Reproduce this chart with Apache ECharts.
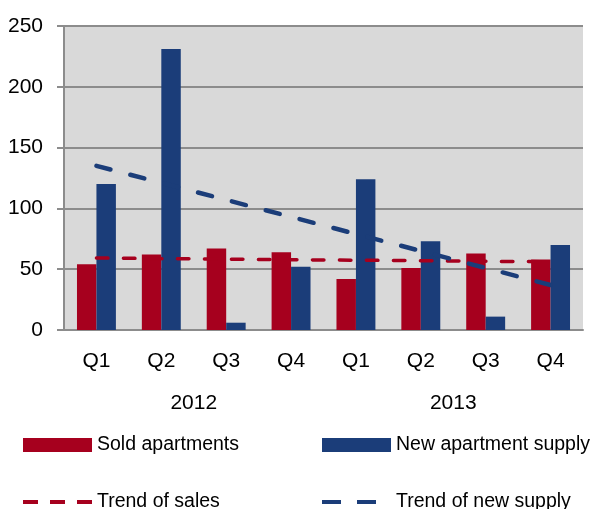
<!DOCTYPE html>
<html>
<head>
	<meta charset="utf-8">
	<title></title>
    <script src="https://cdn.jsdelivr.net/npm/echarts@6/dist/echarts.min.js"></script>
    <style>
        html, body { margin: 0; padding: 0; background: #fff; }
    </style>
</head>
<body>
    <div id="main" style="width: 595px;height:509px;"></div>
	<script type="text/javascript">
        const quarters = ['Q1', 'Q2', 'Q3', 'Q4', 'Q1', 'Q2', 'Q3', 'Q4'];
        const years = ['2012', '2013'];
        const sold = [54, 62, 67, 64, 42, 51, 63, 58];
        const supply = [120, 231, 6, 52, 124, 73, 11, 70];
        // trend lines at each quarter
        const salesTrend = [59.2, 58.7, 58.3, 57.8, 57.4, 57.0, 56.5, 56.1];
        const supplyTrend = [135, 121, 107, 93, 79, 65, 51, 37];

        const RED = '#a6001e';
        const BLUE = '#1b3d79';
        const GREY = '#8c8c8c';
        const FONT = "'Liberation Sans', Arial, sans-serif";
        const txt = { color: '#000', fontFamily: FONT, fontSize: 19.5 };
        const axisTxt = { color: '#000', fontFamily: FONT, fontSize: 21 };

        // dashed legend icons (dash / gap pattern of the trend lines)
        const RED_DASH_ICON = 'path://M0,0h15v4h-15z M27,0h15v4h-15z M54,0h15v4h-15z';
        const BLUE_DASH_ICON = 'path://M0,0h19v4h-19z M35,0h19v4h-19z M69,4';

        const myChart = echarts.init(document.getElementById('main'));

        function legendAt(left, top, name, icon, h) {
            return {
                left: left, top: top, padding: 0,
                itemWidth: 69, itemHeight: h,
                symbolKeepAspect: false,
                data: [{ name: name, icon: icon }],
                selectedMode: false,
                textStyle: txt
            };
        }

        const options = {
            animation: false,
            grid: {
                left: 64, right: 12, top: 26, bottom: 179,
                show: true, backgroundColor: '#d9d9d9', borderWidth: 0
            },
            legend: [
                legendAt(23, 435, 'Sold apartments', 'rect', 14),
                legendAt(322, 435, 'New apartment supply', 'rect', 14),
                legendAt(23, 492, 'Trend of sales', RED_DASH_ICON, 4),
                legendAt(322, 492, 'Trend of new supply', BLUE_DASH_ICON, 4)
            ],
            xAxis: [{
                type: 'category',
                data: quarters,
                axisLine: { lineStyle: { color: GREY, width: 2 } },
                axisTick: { interval: 0, length: 43, lineStyle: { color: GREY, width: 2 } },
                axisLabel: Object.assign({ interval: 0, margin: 21 }, axisTxt)
            }, {
                type: 'category',
                data: years,
                position: 'bottom',
                offset: 43,
                axisLine: { show: false },
                axisTick: { interval: 0, length: 45, lineStyle: { color: GREY, width: 2 } },
                axisLabel: Object.assign({ interval: 0, margin: 20 }, axisTxt)
            }],
            yAxis: {
                type: 'value',
                min: 0, max: 250, interval: 50,
                axisLine: { show: true, lineStyle: { color: GREY, width: 2 } },
                axisTick: { show: true, length: 7, lineStyle: { color: GREY, width: 2 } },
                splitLine: { lineStyle: { color: GREY, width: 2 } },
                axisLabel: Object.assign({ margin: 21 }, axisTxt)
            },
            series: [{
                name: 'Sold apartments',
                type: 'bar',
                data: sold,
                barWidth: '30%',
                barGap: '0%',
                itemStyle: { color: RED }
            }, {
                name: 'New apartment supply',
                type: 'bar',
                data: supply,
                barWidth: '30%',
                barGap: '0%',
                itemStyle: { color: BLUE }
            }, {
                name: 'Trend of sales',
                type: 'line',
                data: salesTrend,
                symbol: 'none',
                z: 5,
                itemStyle: { color: RED },
                lineStyle: { color: RED, width: 3.5, type: [11.5, 15.5], cap: 'round' }
            }, {
                name: 'Trend of new supply',
                type: 'line',
                data: supplyTrend,
                symbol: 'none',
                z: 5,
                itemStyle: { color: BLUE },
                lineStyle: { color: BLUE, width: 4.5, type: [14.5, 20.5], cap: 'round' }
            }]
        };

        myChart.setOption(options);
	</script>
</body>
</html>
